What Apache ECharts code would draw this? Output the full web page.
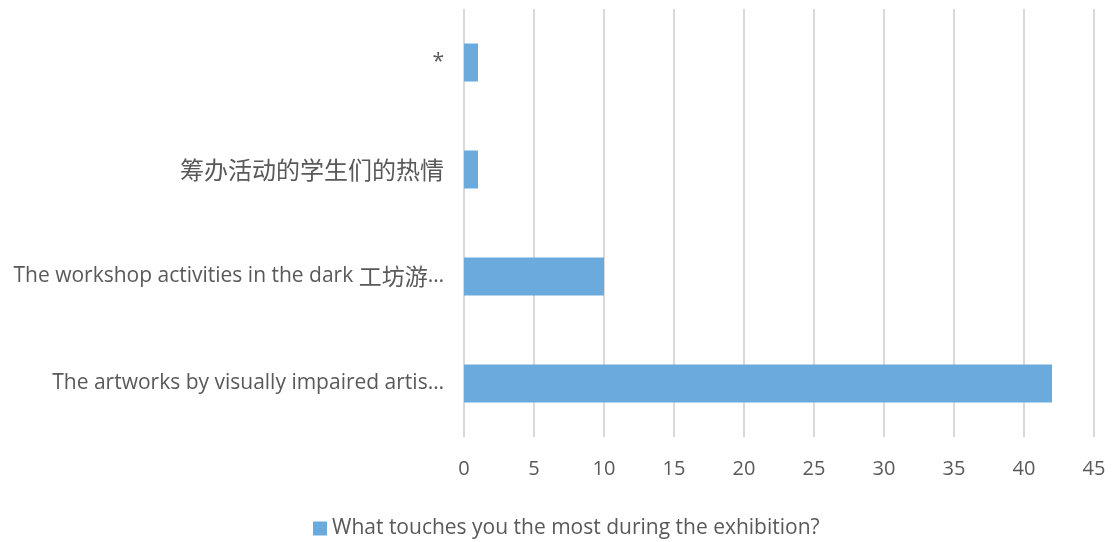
<!DOCTYPE html>
<html><head><meta charset="utf-8">
<script src="https://cdn.jsdelivr.net/npm/echarts@6/dist/echarts.min.js"></script>
<style>html,body{margin:0;padding:0;background:#fff}#c{width:1113px;height:542px}</style>
</head><body><div id="c"></div>
<script>
const categories = ["The artworks by visually impaired artis…", "The workshop activities in the dark 工坊游…", "筹办活动的学生们的热情", "*"];
const values = [42, 10, 1, 1];
const seriesName = "What touches you the most during the exhibition?";
const xTicks = {min: 0, max: 45, interval: 5};
const font = '"Open Sans", "Noto Sans CJK SC", sans-serif';
const cjkFont = '"Noto Sans CJK SC", sans-serif';
function richLabel(s) {
  if (/^[\u3400-\u9fff]+$/.test(s)) return '{c|' + s + '}';
  const parts = s.split(/([\u3400-\u9fff]+)/).filter(p => p.length);
  return parts.map(p => /[\u3400-\u9fff]/.test(p) ? '{d|' + p + '}' : '{t|' + p + '}').join('');
}
const chart = echarts.init(document.getElementById('c'));
chart.setOption({
  animation: false,
  textStyle: {fontFamily: font},
  grid: {left: 464, right: 19, top: 9, bottom: 105, containLabel: false},
  legend: {top: 513, left: 308, itemWidth: 14, itemHeight: 14, itemGap: 5,
    icon: 'rect', textStyle: {fontSize: 21, color: '#595959', fontFamily: font},
    data: [seriesName]},
  xAxis: {type: 'value', min: xTicks.min, max: xTicks.max, interval: xTicks.interval,
    axisLine: {show: false}, axisTick: {show: false},
    splitLine: {lineStyle: {color: '#d9d9d9', width: 2}},
    axisLabel: {fontSize: 20, color: '#595959', margin: 22, fontFamily: font}},
  yAxis: {type: 'category', data: categories,
    axisLine: {show: false}, axisTick: {show: false},
    axisLabel: {fontSize: 21, color: '#595959', margin: 20, fontFamily: font,
      formatter: v => richLabel(v),
      rich: {
        t: {fontSize: 21, color: '#595959', fontFamily: font, lineHeight: 30, verticalAlign: 'middle'},
        d: {fontSize: 23, color: '#595959', fontFamily: cjkFont, lineHeight: 30, verticalAlign: 'middle'},
        c: {fontSize: 24, color: '#595959', fontFamily: cjkFont, lineHeight: 30, verticalAlign: 'middle'}
      }}},
  series: [{name: seriesName, type: 'bar', data: values, barWidth: 38,
    itemStyle: {color: '#6aaadc'}}]
});
</script></body></html>
